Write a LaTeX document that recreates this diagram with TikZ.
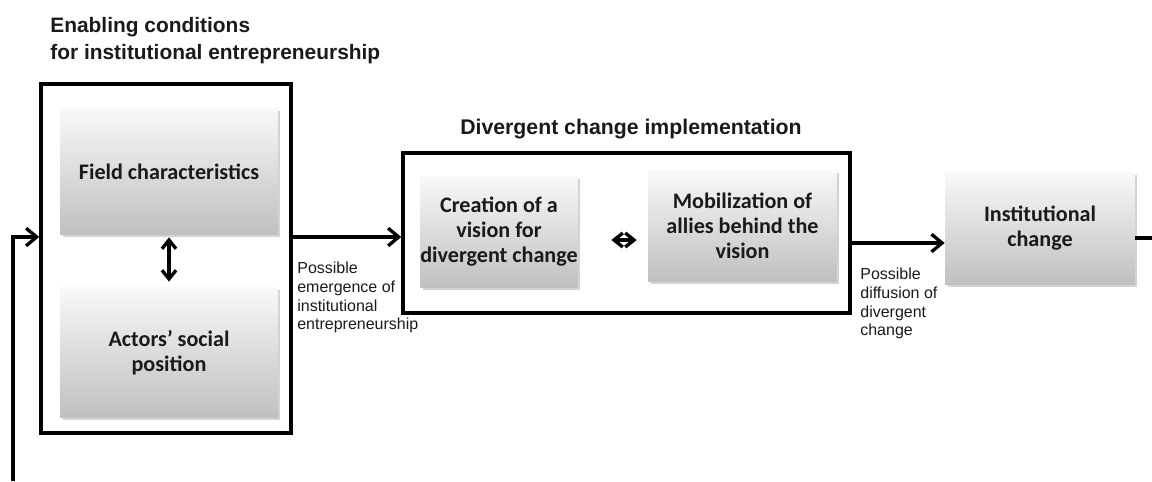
\documentclass[tikz,border=0pt]{standalone}
\usepackage{fontspec}
\setmainfont{Liberation Sans}
\newfontfamily\calfont{Carlito}
\usetikzlibrary{arrows.meta,shadows}
\definecolor{txt}{HTML}{1a1a1a}
\begin{document}
\begin{tikzpicture}[x=0.02cm,y=-0.02cm,
  grad/.style={shade, top color=gray!5, bottom color=gray!50, draw=none,
    drop shadow={opacity=0.35, shadow xshift=0.05cm, shadow yshift=-0.05cm},
    font=\calfont\bfseries\fontsize{12.6}{14.2}\selectfont, text=txt, align=center, inner sep=0},
  frame/.style={draw=black, line width=2pt, inner sep=0},
  conn/.style={line width=1.9pt, -{Straight Barb[length=6pt,width=10pt,line width=1.9pt]}},
  dbl/.style={line width=1.9pt, {Straight Barb[length=5pt,width=8pt,line width=1.9pt]}-{Straight Barb[length=5pt,width=8pt,line width=1.9pt]}},
  note/.style={font=\fontsize{9.1}{10.6}\selectfont, text=txt, align=left, inner sep=0, anchor=north west},
  ttl/.style={font=\bfseries\fontsize{11.9}{15.3}\selectfont, text=txt, inner sep=0}
]
\useasboundingbox (0,0) rectangle (1152,481);
% titles
\node[ttl, anchor=base west] (t1a) at (50,32) {Enabling conditions};
\node[ttl, anchor=base west] (t1b) at (50,59) {for institutional entrepreneurship};
\node[ttl, anchor=base, font=\fontsize{12.1}{15}\selectfont\bfseries] (t2) at (631,134) {Divergent change implementation};
% frames
\node[frame, minimum width=5.0cm, minimum height=6.98cm] (box1) at (166,258.5) {};
\node[frame, minimum width=8.94cm, minimum height=3.2cm] (box2) at (626.5,233) {};
% gradient boxes
\node[grad, minimum width=4.36cm, minimum height=2.54cm] (field) at (169,171.5) {Field characteristics};
\node[grad, minimum width=4.36cm, minimum height=2.62cm] (actors) at (169,352.5) {Actors’ social\\position};
\node[grad, minimum width=3.16cm, minimum height=2.24cm] (vision) at (499,232) {Creation of a\\vision for\\divergent change};
\node[grad, minimum width=3.78cm, minimum height=2.24cm] (mob) at (742.5,226) {Mobilization of\\allies behind the\\vision};
\node[grad, minimum width=3.8cm, minimum height=2.26cm] (inst) at (1040,228.5) {Institutional\\change};
% labels
\node[note] (l1) at (297,262) {Possible\\emergence of\\institutional\\entrepreneurship};
\node[note] (l2) at (860,268) {Possible\\diffusion of\\divergent\\change};
% connectors
\coordinate (fbstart) at (13,481);
\coordinate (fbcorner) at (13,237);
\coordinate (outend) at (1152,238);
\draw[conn] (fbstart) -- (fbcorner) -- (fbcorner -| box1.west);
\draw[conn] (box1.east |- fbcorner) -- (box2.west |- fbcorner);
\draw[conn] (box2.east |- 0,243) -- (inst.west |- 0,243);
\draw[line width=1.9pt] (inst.east |- outend) -- (outend);
\draw[dbl] ([yshift=-0.04cm]field.south) -- ([yshift=0.1cm]actors.north);
\draw[dbl] ([xshift=0.66cm]vision.east |- 0,240) -- ([xshift=-0.22cm]mob.west |- 0,240);
\end{tikzpicture}
\end{document}
